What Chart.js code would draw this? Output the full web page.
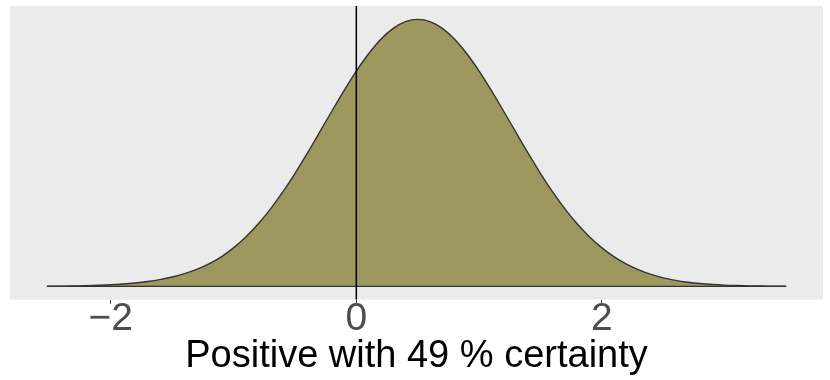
<!DOCTYPE html>
<html>
<head>
<meta charset="utf-8">
<script src="https://cdn.jsdelivr.net/npm/chart.js@4/dist/chart.umd.min.js"></script>
<style>
  html, body { margin: 0; padding: 0; background: #ffffff; }
  #wrap { width: 830px; height: 380px; position: relative; }
</style>
</head>
<body>
<div id="wrap"><canvas id="c" width="830" height="380"></canvas></div>
<script>
// Density curve
const xValues = [-2.52, -2.4, -2.3, -2.2, -2.1, -2.0, -1.9, -1.8, -1.7, -1.6, -1.5, -1.4, -1.3, -1.2, -1.1, -1.0,
  -0.9, -0.8, -0.7, -0.6, -0.5, -0.4, -0.3, -0.2, -0.1, 0.0, 0.1, 0.2, 0.3, 0.4, 0.5, 0.6, 0.7, 0.8, 0.9, 1.0,
  1.1, 1.2, 1.3, 1.4, 1.5, 1.6, 1.7, 1.8, 1.9, 2.0, 2.1, 2.2, 2.3, 2.4, 2.5, 2.6, 2.7, 2.8, 2.9, 3.0,
  3.1, 3.2, 3.3, 3.4, 3.5];
const densityValues = [0.0002, 0.0004, 0.0008, 0.0013, 0.0021, 0.0031, 0.0046, 0.0067, 0.0095, 0.0133, 0.0183, 0.0248, 0.0332, 0.0440, 0.0578, 0.0754,
  0.0968, 0.1222, 0.1515, 0.1847, 0.2213, 0.2607, 0.3018, 0.3434, 0.3840, 0.4222, 0.4562, 0.4846, 0.5059, 0.5191, 0.5236, 0.5191, 0.5059, 0.4846, 0.4562, 0.4222,
  0.3840, 0.3434, 0.3018, 0.2607, 0.2213, 0.1847, 0.1515, 0.1222, 0.0968, 0.0754, 0.0578, 0.0435, 0.0322, 0.0234, 0.0167, 0.0117, 0.0081, 0.0055, 0.0037, 0.0024,
  0.0016, 0.0010, 0.0006, 0.0004, 0.0002];
const xTickValues = [-2, 0, 2];
const referenceX = [0];
const titleText = "Positive with 49 % certainty";

const xMin = -2.82, xMax = 3.80;
const yMax = Math.max(...densityValues);
const yLo = -0.05 * yMax, yHi = 1.05 * yMax;

const curve = xValues.map((x, i) => ({ x: x, y: densityValues[i] }));
const baseLine = [{ x: xValues[0], y: 0 }, { x: xValues[xValues.length - 1], y: 0 }];
const vLine = [{ x: referenceX[0], y: yLo }, { x: referenceX[0], y: yHi }];

const panelBg = {
  id: 'panelBg',
  beforeDraw(chart) {
    const { ctx, chartArea: a } = chart;
    ctx.save();
    ctx.fillStyle = '#EBEBEB';
    ctx.fillRect(a.left, a.top, a.right - a.left, a.bottom - a.top);
    ctx.restore();
  }
};

new Chart(document.getElementById('c'), {
  type: 'line',
  data: {
    datasets: [
      {
        data: curve,
        borderColor: '#333333',
        borderWidth: 1.4,
        backgroundColor: '#9C985E',
        fill: 'origin',
        pointRadius: 0,
        tension: 0.4,
        cubicInterpolationMode: 'monotone',
        order: 2
      },
      {
        data: baseLine,
        borderColor: '#333333',
        borderWidth: 1.4,
        fill: false,
        pointRadius: 0,
        order: 1
      },
      {
        data: vLine,
        borderColor: '#000000',
        borderWidth: 1.5,
        fill: false,
        pointRadius: 0,
        order: 0
      }
    ]
  },
  options: {
    responsive: false,
    animation: false,
    devicePixelRatio: 1,
    layout: { padding: { left: 10, right: 7, top: 6, bottom: 0 } },
    plugins: { legend: { display: false }, tooltip: { enabled: false } },
    scales: {
      x: {
        type: 'linear',
        min: xMin,
        max: xMax,
        afterBuildTicks(scale) { scale.ticks = xTickValues.map(v => ({ value: v })); },
        border: { display: false },
        grid: { display: true, drawOnChartArea: false, drawTicks: true, tickLength: 4, color: '#333333', lineWidth: 1 },
        ticks: {
          font: { family: '"Liberation Sans", Arial, sans-serif', size: 39, lineHeight: 0.7 },
          color: '#4D4D4D',
          padding: 2,
          maxRotation: 0,
          callback: v => String(v).replace('-', '\u2212')
        },
        title: {
          display: true,
          text: titleText,
          font: { family: '"Liberation Sans", Arial, sans-serif', size: 38, lineHeight: 1 },
          color: '#000000',
          padding: { top: 3, bottom: 4 }
        }
      },
      y: {
        type: 'linear',
        display: false,
        min: yLo,
        max: yHi
      }
    }
  },
  plugins: [panelBg]
});
</script>
</body>
</html>
